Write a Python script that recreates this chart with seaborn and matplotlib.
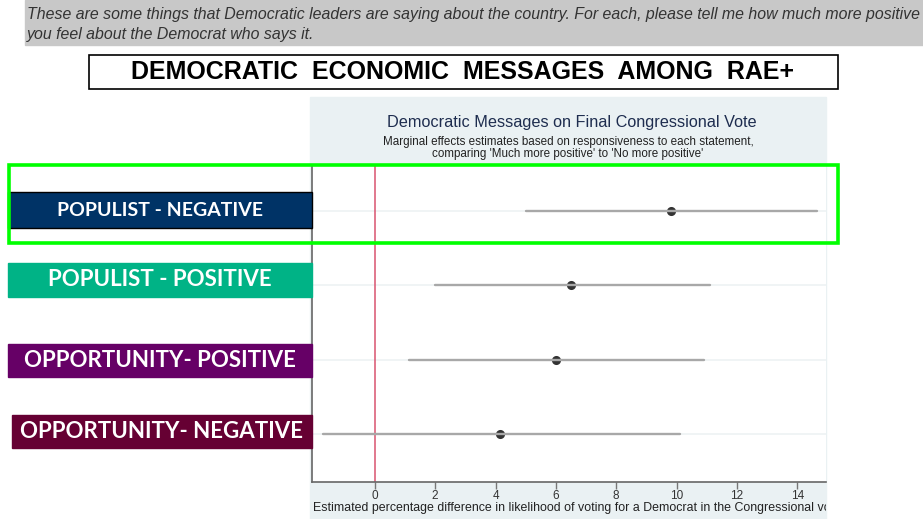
import pandas as pd
import seaborn as sns
import matplotlib.pyplot as plt
from matplotlib.patches import Rectangle

sns.set_theme(style='white')
plt.rcParams['font.family'] = ['Liberation Sans', 'DejaVu Sans']

messages = ['POPULIST - NEGATIVE', 'POPULIST - POSITIVE',
            'OPPORTUNITY- POSITIVE', 'OPPORTUNITY- NEGATIVE']
estimates = [9.8, 6.5, 6.0, 4.15]
ci_low = [5.0, 2.0, 1.15, -1.7]
ci_high = [14.65, 11.1, 10.9, 10.1]
box_colors = ['#003366', '#00b386', '#660066', '#660033']
x_ticks = [0, 2, 4, 6, 8, 10, 12, 14]

W, H = 923, 519


def fx(px):
    return px / W


def fy(py):
    return 1 - py / H


def main():
    rows = []
    for m, lo, est, hi in zip(messages, ci_low, estimates, ci_high):
        for v in (lo, est, hi):
            rows.append({'message': m, 'value': v})
    data = pd.DataFrame(rows)

    fig = plt.figure(figsize=(W / 100, H / 100), dpi=100)

    # light panel behind the chart
    panel = Rectangle((fx(310), fy(519)), fx(826) - fx(310), fy(97) - fy(519),
                      transform=fig.transFigure, color='#eaf1f3', zorder=-2)
    fig.patches.append(panel)

    ax = fig.add_axes([fx(312), fy(482), fx(826) - fx(312), fy(165) - fy(482)])
    ax.set_zorder(1)
    ax.set_facecolor('white')
    for i in range(len(messages)):
        ax.axhline(i, color='#eff3f4', lw=1.3, zorder=0)
    ax.axvline(0, color='#d9536f', lw=1.1, zorder=1)

    sns.pointplot(data=data, x='value', y='message', order=messages,
                  estimator='median', errorbar=('pi', 100),
                  color='#333333', linestyle='none', markersize=4.5,
                  err_kws={'color': '#a8a8a8', 'linewidth': 1.7}, ax=ax)

    ax.set_xlim(-2.08, 14.95)
    ax.set_ylim(3.65, -0.62)
    ax.set_yticks([])
    ax.set_ylabel('')
    ax.set_xlabel('')
    ax.set_xticks(x_ticks)
    ax.set_xticklabels([str(t) for t in x_ticks], fontsize=8.5, color='#333333')
    ax.tick_params(axis='x', direction='out', length=5, width=1, color='#777777',
                   pad=1, bottom=True)
    for side in ['top', 'right']:
        ax.spines[side].set_visible(False)
    ax.spines['left'].set_color('#666666')
    ax.spines['bottom'].set_color('#666666')
    ax.spines['left'].set_linewidth(1.2)
    ax.spines['bottom'].set_linewidth(1.2)

    xl = fig.text(fx(313), fy(508), 'Estimated percentage difference in likelihood of voting '
                  'for a Democrat in the Congressional vote', fontsize=8.9,
                  color='#222222', ha='left', va='center')
    xl.set_clip_path(panel)

    fig.text(fx(572), fy(123), 'Democratic Messages on Final Congressional Vote',
             fontsize=11.7, color='#1e2d4f', ha='center', va='center')
    fig.text(fx(568), fy(148), "Marginal effects estimates based on responsiveness to each statement,\n"
             "comparing 'Much more positive' to 'No more positive'",
             fontsize=8.4, color='#222222', ha='center', va='center',
             linespacing=0.95)

    # gray banner with the question
    fig.patches.append(Rectangle((fx(25), fy(45)), fx(923) - fx(25), fy(0) - fy(45),
                                 transform=fig.transFigure, color='#c8c8c8', zorder=0))
    fig.text(fx(27), fy(14), 'These are some things that Democratic leaders are saying about the '
             'country. For each, please tell me how much more positive',
             fontsize=11.4, style='italic', color='#333333', ha='left', va='center')
    fig.text(fx(27), fy(34), 'you feel about the Democrat who says it.',
             fontsize=11.4, style='italic', color='#333333', ha='left', va='center')

    # title box
    fig.patches.append(Rectangle((fx(89), fy(89)), fx(838) - fx(89), fy(55) - fy(89),
                                 transform=fig.transFigure, facecolor='white',
                                 edgecolor='black', lw=1.2, zorder=1))
    fig.text(fx(463), fy(72), 'DEMOCRATIC  ECONOMIC  MESSAGES  AMONG  RAE+',
             fontsize=18, weight='bold', color='black', ha='center', va='center')

    # coloured label boxes
    boxes = [(8, 192, 228), (8, 263, 297), (8, 344, 377), (12, 415, 448)]
    sizes = [14, 16, 16, 16]
    for (x0, y0, y1), label, col, fs in zip(boxes, messages, box_colors, sizes):
        edge = 'black' if col == '#003366' else col
        fig.patches.append(Rectangle((fx(x0), fy(y1)), fx(312) - fx(x0), fy(y0) - fy(y1),
                                     transform=fig.transFigure, facecolor=col,
                                     edgecolor=edge, lw=1, zorder=2))
        fig.text(fx((x0 + 312) / 2), fy((y0 + y1) / 2), label, fontsize=fs,
                 weight='bold', color='white', ha='center', va='center',
                 family=['Lato', 'DejaVu Sans'], zorder=3)

    # green highlight
    fig.patches.append(Rectangle((fx(9), fy(243)), fx(838) - fx(9), fy(165) - fy(243),
                                 transform=fig.transFigure, fill=False,
                                 edgecolor='#00ff00', lw=2.6, zorder=4))

    fig.savefig('out.png', dpi=100)


if __name__ == '__main__':
    main()
